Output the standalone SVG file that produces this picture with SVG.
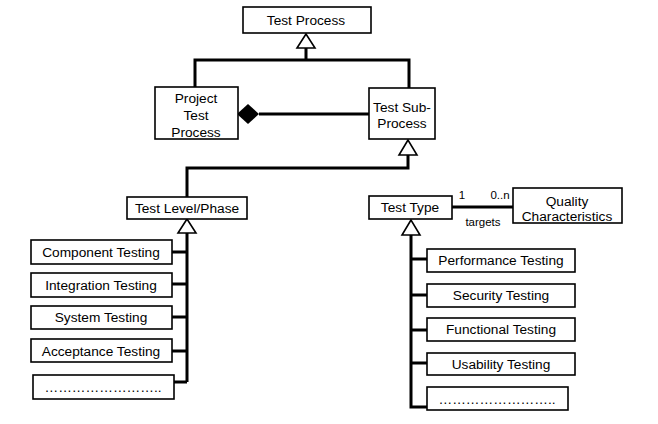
<svg xmlns="http://www.w3.org/2000/svg" width="658" height="424" viewBox="0 0 658 424">
<style>
.box{fill:#fff;stroke:#000;stroke-width:1.6}
.t{font-family:"Liberation Sans",Arial,sans-serif;font-size:13.7px;fill:#000;text-anchor:middle}
.s{font-family:"Liberation Sans",Arial,sans-serif;font-size:11.5px;fill:#000;text-anchor:middle}
.c{fill:none;stroke:#000;stroke-width:3}
.tri{fill:#fff;stroke:#000;stroke-width:1.6}
</style>
<rect width="658" height="424" fill="#fff"/>
<g id="connectors">
<path class="c" d="M306 48V60M195 88V60H409V88"/>
<path class="c" d="M259 114H369"/>
<polygon points="237,114 248,104 259,114 248,124" fill="#000"/>
<path class="c" d="M408 155V168H187V197"/>
<path class="c" d="M452 207H513"/>
<path class="c" d="M187 233V382M172 252H187M172 284H187M172 317H187M172 351H187M174 382H187"/>
<path class="c" d="M411 235V407H427M411 259H427M411 295H427M411 330H427M411 363H427"/>
<polygon class="tri" points="306,34 297,48 315,48"/>
<polygon class="tri" points="408,140 399,155 417,155"/>
<polygon class="tri" points="187,219 178,233 196,233"/>
<polygon class="tri" points="411,220 402,235 420,235"/>
<text class="s" x="462" y="199">1</text>
<text class="s" x="500" y="199">0..n</text>
<text class="s" x="483" y="226">targets</text>
</g>
<g id="test-process"><rect class="box" x="243" y="7" width="128" height="26"/><text class="t" x="306" y="25">Test Process</text></g>
<g id="project-test-process"><rect class="box" x="155" y="87" width="83" height="52"/><text class="t" x="196" y="103">Project</text><text class="t" x="196" y="120">Test</text><text class="t" x="196" y="137">Process</text></g>
<g id="test-sub-process"><rect class="box" x="369" y="88" width="66" height="51"/><text class="t" x="402" y="112">Test Sub-</text><text class="t" x="402" y="128">Process</text></g>
<g id="test-level-phase"><rect class="box" x="127" y="197" width="120" height="22"/><text class="t" x="187" y="213">Test Level/Phase</text></g>
<g id="test-type"><rect class="box" x="369" y="196" width="83" height="23"/><text class="t" x="410" y="212">Test Type</text></g>
<g id="quality-characteristics"><rect class="box" x="513" y="188" width="109" height="35"/><text class="t" x="567" y="206">Quality</text><text class="t" x="567" y="221">Characteristics</text></g>
<g id="component-testing"><rect class="box" x="31" y="240" width="141" height="24"/><text class="t" x="101" y="257">Component Testing</text></g>
<g id="integration-testing"><rect class="box" x="31" y="273" width="141" height="24"/><text class="t" x="101" y="290">Integration Testing</text></g>
<g id="system-testing"><rect class="box" x="31" y="306" width="141" height="23"/><text class="t" x="101" y="322">System Testing</text></g>
<g id="acceptance-testing"><rect class="box" x="31" y="339" width="141" height="23"/><text class="t" x="101" y="356">Acceptance Testing</text></g>
<g id="level-more"><rect class="box" x="33" y="375" width="141" height="24"/><text class="t" x="103" y="392">……………………..</text></g>
<g id="performance-testing"><rect class="box" x="427" y="249" width="148" height="23"/><text class="t" x="501" y="265">Performance Testing</text></g>
<g id="security-testing"><rect class="box" x="427" y="284" width="148" height="23"/><text class="t" x="501" y="300">Security Testing</text></g>
<g id="functional-testing"><rect class="box" x="427" y="318" width="148" height="23"/><text class="t" x="501" y="334">Functional Testing</text></g>
<g id="usability-testing"><rect class="box" x="427" y="353" width="148" height="22"/><text class="t" x="501" y="369">Usability Testing</text></g>
<g id="type-more"><rect class="box" x="427" y="387" width="141" height="23"/><text class="t" x="497" y="404">……………………..</text></g>
</svg>
